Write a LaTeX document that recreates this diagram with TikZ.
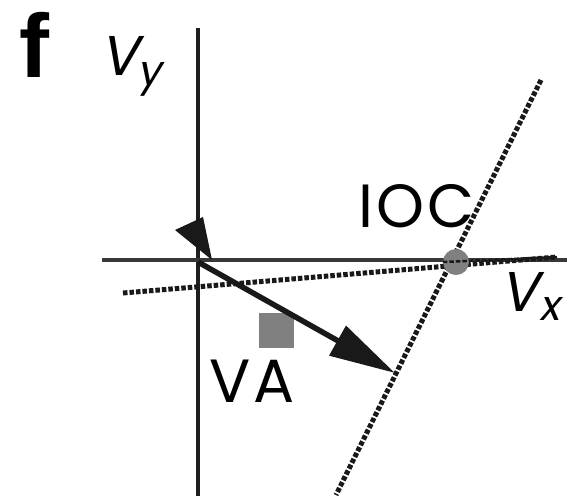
\documentclass[tikz,border=0pt]{standalone}
\usepackage{fontspec}
\setmainfont{Poppins}
\newfontfamily\boldf{Liberation Sans}
\usetikzlibrary{arrows.meta}
\tikzset{
  axis/.style={line width=4pt, draw=black!78},
  dotline/.style={line width=5pt, dash pattern=on 4.5pt off 2pt, draw=black!90},
  vec/.style={line width=5.5pt, draw=black!90},
  lbl/.style={inner sep=0pt, font=\fontsize{61}{61}\selectfont\addfontfeatures{LetterSpace=5}},
  sym/.style={inner sep=0pt, font=\fontsize{56}{56}\selectfont\addfontfeatures{FakeSlant=0.2}},
  sub/.style={inner sep=0pt, font=\fontsize{42}{42}\selectfont\addfontfeatures{FakeSlant=0.2}},
}
\begin{document}
\begin{tikzpicture}[x=1pt,y=-1pt]
\useasboundingbox (0,0) rectangle (567,496);
% coordinates
\coordinate (O) at (198,262);
\coordinate (ytop) at (198,28);
\coordinate (ybot) at (198,496);
\coordinate (xl) at (102,260);
\coordinate (xr) at (567,260);
\coordinate (dl) at (123,293);
\coordinate (dr) at (557,257);
\coordinate (ioct) at (541,80);
\coordinate (iocb) at (336,495);
\coordinate (vend) at (395,373);
\coordinate (h1) at (175,230);
\coordinate (h2) at (203,217);
\coordinate (h3) at (212,260);
% axes
\draw[line width=3.2pt, draw=black!88] (ytop) -- (ybot);
\draw[axis] (xl) -- (xr);
% dotted lines
\draw[dotline] (dl) -- (dr);
\draw[dotline] (ioct) -- (iocb);
% IOC point
\node[circle, fill=black!50, minimum size=26pt, inner sep=0pt] (ioc) at (456,262) {};
\draw[dotline, line width=2.5pt] (ioc.west) -- (dr);
% VA square
\node[rectangle, fill=black!50, minimum size=35pt, inner sep=0pt] (va) at (276,330) {};
% vectors
\draw[vec, -{Triangle[length=66pt,width=33pt]}] (O) -- (vend);
\fill[black!90] (h1) -- (h2) -- (h3) -- cycle;
% labels
\node[inner sep=0pt, anchor=base, font=\boldf\bfseries\fontsize{90}{90}\selectfont] (f) at (34,77) {f};
\node[sym, anchor=base west] (vy) at (100,75) {V};
\node[sub, anchor=base west] (vysub) at (137,85) {y};
\node[lbl, anchor=base west] (ioclbl) at (358,227) {IOC};
\node[lbl, anchor=base west] (valbl) at (209,402) {VA};
\node[sym, anchor=base west] (vx) at (500,311) {V};
\node[sub, anchor=base west] (vxsub) at (539,320) {x};
\end{tikzpicture}
\end{document}
